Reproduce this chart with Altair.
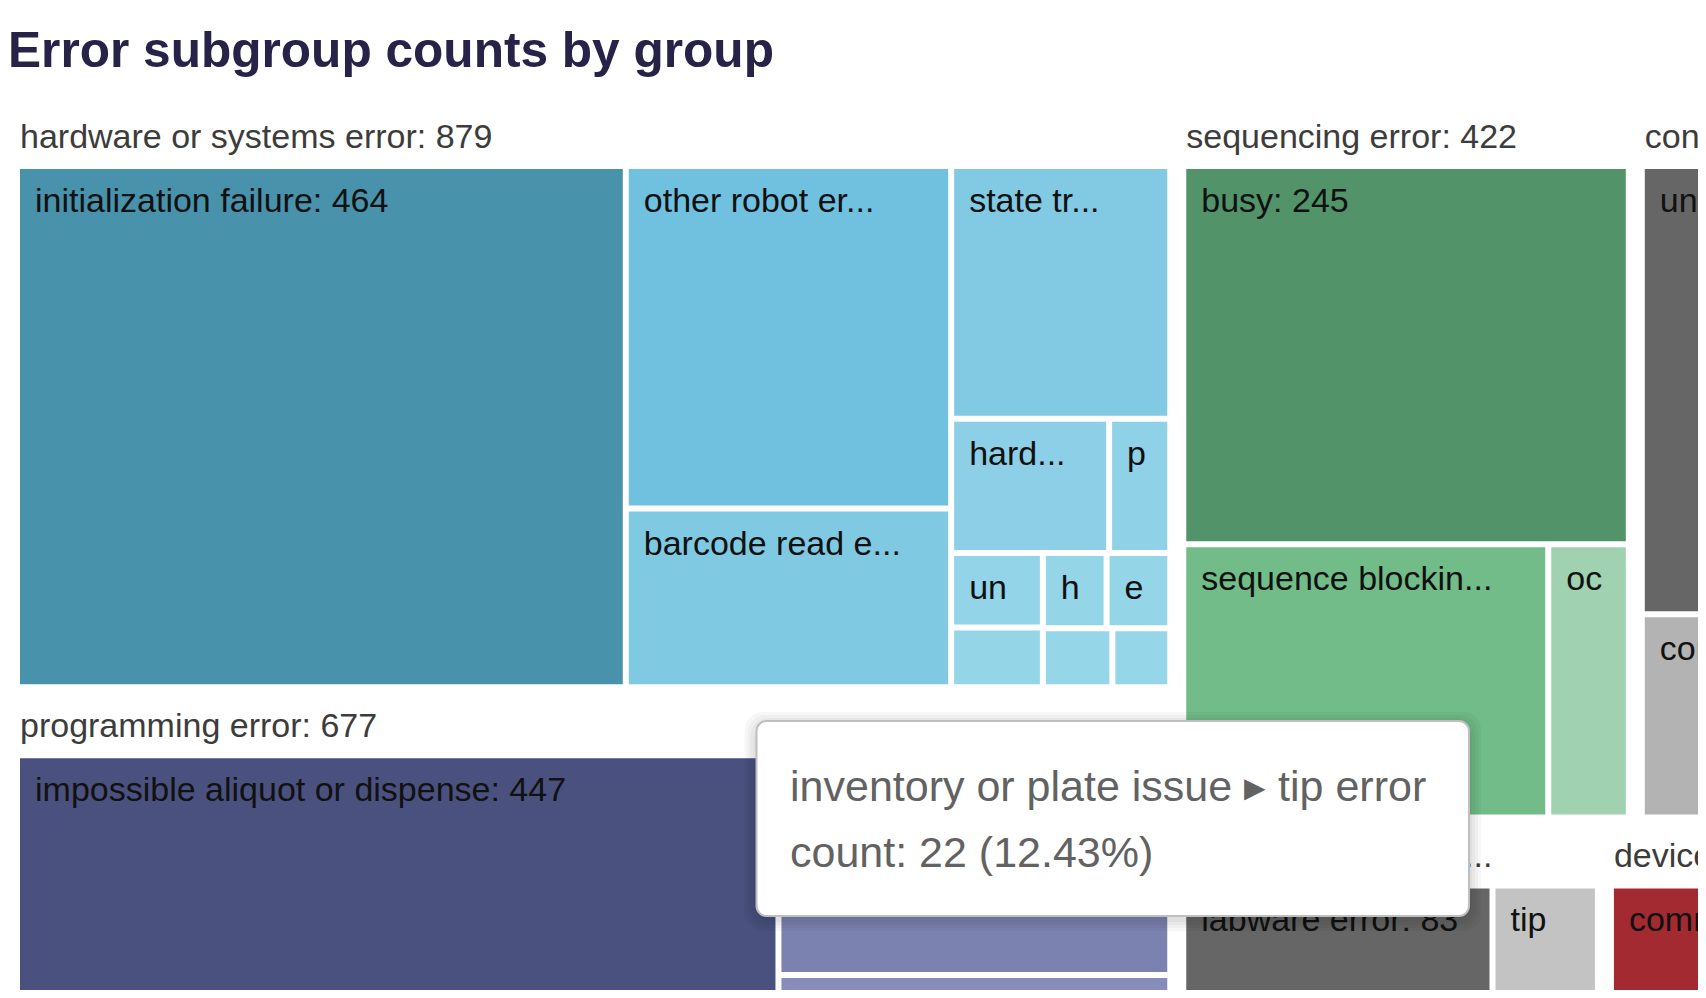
import altair as alt
import pandas as pd

# ---------------- data ----------------
group_names = ["hardware or systems error", "programming error", "sequencing error",
               "connection error", "inventory or plate issue", "device error", "other error"]
group_headers = ["hardware or systems error: 879", "programming error: 677", "sequencing error: 422",
                 "connection error: 314", "inventory or plate i...", "device error: 98", "other error: 56"]

hardware_sub = ["initialization failure", "other robot error", "barcode read error",
                "state transition error", "hardware fault", "pipette error", "unknown hardware error",
                "gripper error", "homing failure", "emergency stop", "door open", "vacuum error"]
hardware_cnt = [464, 163, 85, 81, 31, 12, 10, 8, 7, 7, 6, 5]
hardware_txt = ["initialization failure: 464", "other robot er...", "barcode read e...", "state tr...",
                "hard...", "p", "un", "", "h", "e", "", ""]

programming_sub = ["impossible aliquot or dispense", "invalid labware position", "liquid class"]
programming_cnt = [447, 131, 99]
programming_txt = ["impossible aliquot or dispense: 447", "invalid labware p...", "liquid class: 99"]

sequencing_sub = ["busy", "sequence blocking", "occupied"]
sequencing_cnt = [245, 145, 32]
sequencing_txt = ["busy: 245", "sequence blockin...", "oc"]

connection_sub = ["unavailable", "connection lost"]
connection_cnt = [216, 98]
connection_txt = ["unavailable: 216", "connection lost: 98"]

inventory_sub = ["labware error", "plate not found", "tip error", "lid error", "volume error"]
inventory_cnt = [83, 49, 22, 12, 11]
inventory_txt = ["labware error: 83", "plate not fou...", "tip", "l", "v"]

device_sub = ["communication failure", "firmware error"]
device_cnt = [60, 38]
device_txt = ["communicat...", "firmware..."]

other_sub = ["unclassified", "timeout"]
other_cnt = [40, 16]
other_txt = ["unclassified: 40", "timeout"]

hovered_group = "inventory or plate issue"
hovered_leaf = "tip error"

# ---------------- styles ----------------
hardware_col = ["#4892ab", "#70c1df", "#80c9e2", "#82cae3", "#8dcfe6", "#8fd1e7",
                "#93d4e8", "#94d5e8", "#94d5e8", "#94d5e8", "#95d6e8", "#95d6e8"]
programming_col = ["#4a517e", "#7c82b0", "#878cba"]
sequencing_col = ["#52936a", "#71bc88", "#a0d2b2"]
connection_col = ["#666666", "#b3b3b3"]
inventory_col = ["#666666", "#8c8c8c", "#c3c3c3", "#d2d2d2", "#dadada"]
device_col = ["#a32a31", "#d4696f"]
other_col = ["#7f7f7f", "#bfbfbf"]

subs = {
    "hardware or systems error": (hardware_sub, hardware_cnt, hardware_txt, hardware_col),
    "programming error": (programming_sub, programming_cnt, programming_txt, programming_col),
    "sequencing error": (sequencing_sub, sequencing_cnt, sequencing_txt, sequencing_col),
    "connection error": (connection_sub, connection_cnt, connection_txt, connection_col),
    "inventory or plate issue": (inventory_sub, inventory_cnt, inventory_txt, inventory_col),
    "device error": (device_sub, device_cnt, device_txt, device_col),
    "other error": (other_sub, other_cnt, other_txt, other_col),
}

CW, CH = 1690, 982           # visible drawing area (px); the treemap runs past it
X0, Y0 = 2.5, 96.5           # treemap origin
TW, TH = 1966, 1043          # treemap size
GPAD, HEAD, LPAD = 6.5, 55, 3
FONT = "Liberation Sans"

PHI = (1 + 5 ** 0.5) / 2


def squarify(values, x0, y0, x1, y1):
    rects = []
    n = len(values)
    value = float(sum(values))
    i0 = 0
    while i0 < n:
        dx, dy = x1 - x0, y1 - y0
        i1 = i0 + 1
        s = values[i0]
        mn = mx = s
        alpha = max(dy / dx, dx / dy) / (value * PHI)
        beta = s * s * alpha
        best = max(mx / beta, beta / mn)
        while i1 < n:
            v = values[i1]
            s2 = s + v
            mn2, mx2 = min(mn, v), max(mx, v)
            beta = s2 * s2 * alpha
            r = max(mx2 / beta, beta / mn2)
            if r > best:
                break
            s, mn, mx, best = s2, mn2, mx2, r
            i1 += 1
        if dx < dy:
            yb = y0 + dy * s / value
            xc = x0
            for v in values[i0:i1]:
                w = dx * v / s
                rects.append((xc, y0, xc + w, yb))
                xc += w
            y0 = yb
        else:
            xb = x0 + dx * s / value
            yc = y0
            for v in values[i0:i1]:
                h = dy * v / s
                rects.append((x0, yc, xb, yc + h))
                yc += h
            x0 = xb
        value -= s
        i0 = i1
    return rects


totals = [sum(subs[g][1]) for g in group_names]
order = sorted(range(len(group_names)), key=lambda i: -totals[i])
grects = squarify([totals[i] for i in order], X0, Y0, X0 + TW, Y0 + TH)

leaf_rows, head_rows, keys, cols = [], [], [], []
for gi, (gx0, gy0, gx1, gy1) in zip(order, grects):
    g = group_names[gi]
    names, cnts, txts, colors = subs[g]
    gx0, gy0, gx1, gy1 = gx0 + GPAD, gy0 + GPAD, gx1 - GPAD, gy1 - GPAD
    ly0 = gy0 + HEAD
    head_rows.append({"text": group_headers[gi], "tx": gx0 + LPAD, "ty": ly0 - 18})
    idx = sorted(range(len(cnts)), key=lambda i: -cnts[i])
    lrects = squarify([cnts[i] for i in idx], gx0, ly0, gx1, gy1)
    for i, (a, b, c, d) in zip(idx, lrects):
        key = g + " | " + names[i]
        keys.append(key)
        cols.append(colors[i])
        a, b, c, d = a + LPAD, b + LPAD, c - LPAD, d - LPAD
        leaf_rows.append({"key": key, "group": g, "name": names[i], "count": cnts[i],
                          "label": txts[i], "x0": a, "x1": c, "y0": b, "y1": d,
                          "tx": a + 15, "ty": b + 43})

leaves = pd.DataFrame(leaf_rows)
heads = pd.DataFrame(head_rows)

xs = alt.Scale(domain=[0, CW], nice=False, zero=False)
ys = alt.Scale(domain=[0, CH], nice=False, zero=False, reverse=True)


def X(f):
    return alt.X(f, type="quantitative", scale=xs, axis=None)


def Y(f):
    return alt.Y(f, type="quantitative", scale=ys, axis=None)


rects = alt.Chart(leaves).mark_rect(clip=True).encode(
    x=X("x0"), x2="x1", y=Y("y0"), y2="y1",
    color=alt.Color("key:N", scale=alt.Scale(domain=keys, range=cols), legend=None),
)

leaf_text = alt.Chart(leaves).mark_text(
    align="left", baseline="alphabetic", font=FONT, fontSize=34, color="#111111", clip=True
).encode(x=X("tx"), y=Y("ty"), text="label:N")

head_text = alt.Chart(heads).mark_text(
    align="left", baseline="alphabetic", font=FONT, fontSize=34, color="#3c3c3c", clip=True
).encode(x=X("tx"), y=Y("ty"), text="text:N")

title_df = pd.DataFrame({"text": ["Error subgroup counts by group"], "tx": [0], "ty": [59]})
title = alt.Chart(title_df).mark_text(
    align="left", baseline="alphabetic", font=FONT, fontSize=49.6, fontWeight="bold", color="#262248"
).encode(x=X("tx"), y=Y("ty"), text="text:N")

# ---------------- hover tooltip (static) ----------------
hv = leaves[(leaves.group == hovered_group) & (leaves.name == hovered_leaf)].iloc[0]
gtot = int(leaves[leaves.group == hovered_group]["count"].sum())
tip_lines = [f"{hovered_group} \u25b8 {hovered_leaf}",
             f"count: {hv['count']} ({hv['count'] / gtot * 100:.2f}%)"]
TBX0, TBX1, TBY0, TBY1 = 748.5, 1461, 713, 908

shadow_df = pd.DataFrame({
    "x0": [TBX0 - k for k in (12, 9, 6, 3)], "x1": [TBX1 + k for k in (12, 9, 6, 3)],
    "y0": [TBY0 - k + 3 for k in (12, 9, 6, 3)], "y1": [TBY1 + k + 3 for k in (12, 9, 6, 3)],
})
shadow = alt.Chart(shadow_df).mark_rect(cornerRadius=18, color="#000000", opacity=0.03).encode(
    x=X("x0"), x2="x1", y=Y("y0"), y2="y1")

tbox_df = pd.DataFrame({"x0": [TBX0], "x1": [TBX1], "y0": [TBY0], "y1": [TBY1]})
tbox = alt.Chart(tbox_df).mark_rect(
    cornerRadius=10, fill="#ffffff", stroke="#bfbfbf", strokeWidth=2
).encode(x=X("x0"), x2="x1", y=Y("y0"), y2="y1")

ttext_df = pd.DataFrame({"text": tip_lines, "tx": [782, 782], "ty": [793, 859]})
ttext = alt.Chart(ttext_df).mark_text(
    align="left", baseline="alphabetic", font=FONT, fontSize=43, color="#626262"
).encode(x=X("tx"), y=Y("ty"), text="text:N")

chart = alt.layer(rects, leaf_text, head_text, title, shadow, tbox, ttext).properties(
    width=CW, height=CH, padding=0, autosize="none"
).configure_view(stroke=None)

chart.save("out.html", embed_options={"renderer": "svg", "actions": False})
